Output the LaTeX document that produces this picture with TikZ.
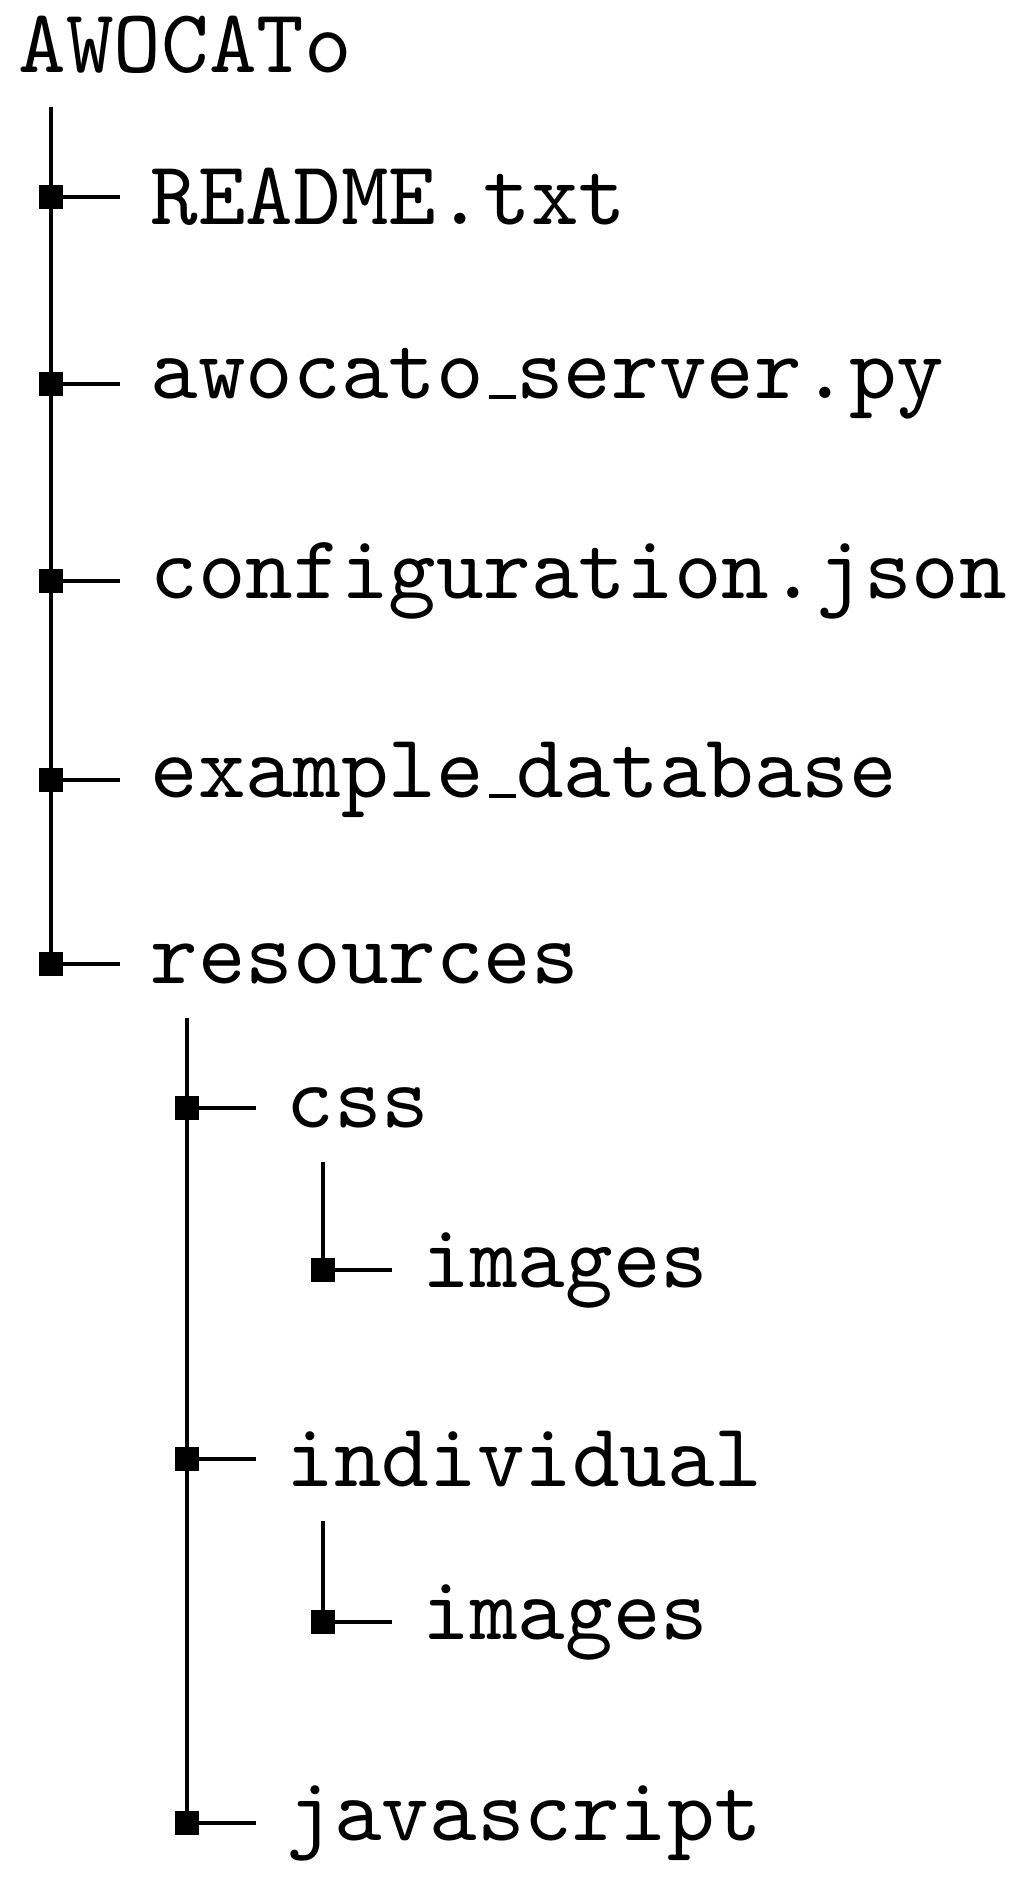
\documentclass[tikz,border=0pt]{standalone}
\usetikzlibrary{positioning,calc}
\tikzset{
  eintrag/.style={anchor=west, inner sep=0pt, scale=9.06, transform shape, font=\ttfamily},
  knoten/.style={fill=black, minimum size=24pt, inner sep=0pt},
  ast/.style={draw=black, line width=3.6pt},
}
\newcommand{\usc}{\kern.06em\vbox{\hrule width.3em}}

\begin{document}
\begin{tikzpicture}[x=1pt,y=-1pt]
    \useasboundingbox (0,0) rectangle (1020,1880);
    \node[eintrag, anchor=base west] (root) at (17,72) {AWOCATo};
    % erste Ebene
    \node[knoten] (s1) at (51,197) {};
    \node[knoten] (s2) at (51,384) {};
    \node[knoten] (s3) at (51,581) {};
    \node[knoten] (s4) at (51,780) {};
    \node[knoten] (s5) at (51,964) {};
    \node[eintrag] (f1) at (149,197) {README.txt};
    \node[eintrag] (f2) at (149,384) {awocato\usc server.py};
    \node[eintrag] (f3) at (149,581) {configuration.json};
    \node[eintrag] (f4) at (149,780) {example\usc database};
    \node[eintrag] (f5) at (149,964) {resources};
    % zweite Ebene
    \node[knoten] (r1) at (187,1108) {};
    \node[knoten] (r2) at (187,1459) {};
    \node[knoten] (r3) at (187,1823) {};
    \node[eintrag] (g1) at (285,1108) {css};
    \node[eintrag] (g2) at (285,1459) {individual};
    \node[eintrag] (g3) at (285,1823) {javascript};
    % dritte Ebene
    \node[knoten] (c1) at (323,1270) {};
    \node[knoten] (i1) at (323,1622) {};
    \node[eintrag] (h1) at (421,1270) {images};
    \node[eintrag] (h2) at (421,1622) {images};
    % Stämme
    \coordinate (t0) at ($(root.south -| s1)+(0,32)$);
    \coordinate (t1) at ($(f5.south -| r1)+(0,32)$);
    \coordinate (t2) at ($(g1.south -| c1)+(0,32)$);
    \coordinate (t3) at ($(g2.south -| i1)+(0,32)$);
    \draw[ast] (t0) -- (s5.center);
    \draw[ast] (t1) -- (r3.center);
    \draw[ast] (t2) -- (c1.center);
    \draw[ast] (t3) -- (i1.center);
    % Zweige
    \draw[ast] (s1.center) -- ([xshift=-29pt]f1.west);
    \draw[ast] (s2.center) -- ([xshift=-29pt]f2.west);
    \draw[ast] (s3.center) -- ([xshift=-29pt]f3.west);
    \draw[ast] (s4.center) -- ([xshift=-29pt]f4.west);
    \draw[ast] (s5.center) -- ([xshift=-29pt]f5.west);
    \draw[ast] (r1.center) -- ([xshift=-29pt]g1.west);
    \draw[ast] (r2.center) -- ([xshift=-29pt]g2.west);
    \draw[ast] (r3.center) -- ([xshift=-29pt]g3.west);
    \draw[ast] (c1.center) -- ([xshift=-29pt]h1.west);
    \draw[ast] (i1.center) -- ([xshift=-29pt]h2.west);
\end{tikzpicture}
\end{document}
